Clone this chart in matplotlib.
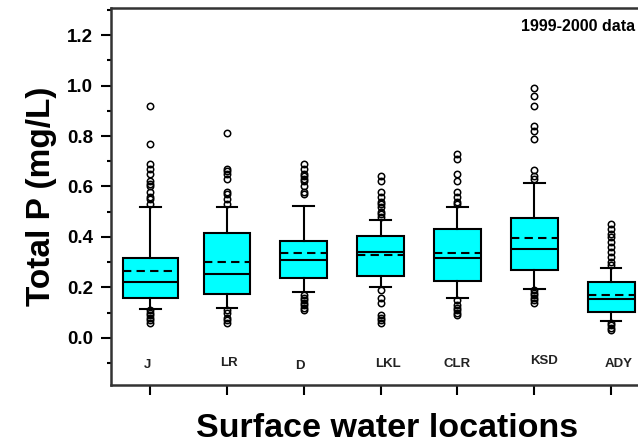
import matplotlib.pyplot as plt
from matplotlib.ticker import MultipleLocator

plt.rcParams['font.family'] = ['Liberation Sans', 'DejaVu Sans']

# Surface water sites and box statistics (Total P, mg/L)
sites = ['J', 'LR', 'D', 'LKL', 'CLR', 'KSD', 'ADY']
q1 = [0.157, 0.176, 0.239, 0.244, 0.226, 0.269, 0.104]
median = [0.220, 0.252, 0.309, 0.342, 0.316, 0.354, 0.153]
mean = [0.265, 0.302, 0.335, 0.327, 0.335, 0.397, 0.170]
q3 = [0.316, 0.417, 0.384, 0.404, 0.430, 0.474, 0.220]
whis_lo = [0.115, 0.120, 0.182, 0.200, 0.157, 0.195, 0.069]
whis_hi = [0.520, 0.520, 0.524, 0.467, 0.520, 0.613, 0.278]
outliers = [
    [0.92, 0.77, 0.69, 0.67, 0.65, 0.62, 0.61, 0.60, 0.58, 0.56, 0.55, 0.53,
     0.11, 0.10, 0.09, 0.08, 0.07, 0.06],
    [0.81, 0.67, 0.66, 0.65, 0.63, 0.58, 0.57, 0.55, 0.53,
     0.11, 0.10, 0.08, 0.07, 0.06],
    [0.69, 0.67, 0.65, 0.64, 0.63, 0.62, 0.60, 0.58, 0.57,
     0.17, 0.16, 0.15, 0.14, 0.13, 0.12, 0.11],
    [0.64, 0.62, 0.58, 0.56, 0.54, 0.53, 0.52, 0.50, 0.49, 0.48,
     0.19, 0.16, 0.14, 0.09, 0.08, 0.07, 0.06],
    [0.73, 0.71, 0.65, 0.62, 0.58, 0.56, 0.54, 0.53,
     0.15, 0.13, 0.12, 0.11, 0.10, 0.09],
    [0.99, 0.96, 0.92, 0.84, 0.82, 0.79, 0.665, 0.64, 0.63,
     0.19, 0.18, 0.17, 0.16, 0.15, 0.14],
    [0.45, 0.43, 0.41, 0.40, 0.38, 0.36, 0.34, 0.32, 0.30, 0.29,
     0.06, 0.05, 0.04, 0.03],
]

stats = []
for i, s in enumerate(sites):
    stats.append({'label': s, 'q1': q1[i], 'med': median[i], 'mean': mean[i],
                  'q3': q3[i], 'whislo': whis_lo[i], 'whishi': whis_hi[i],
                  'fliers': outliers[i]})

fig = plt.figure(figsize=(6.38, 4.45), dpi=100)
ax = fig.add_axes([0.174, 0.135, 0.826, 0.847])

pos = list(range(1, len(sites) + 1))
widths = [0.72] + [0.61] * (len(sites) - 1)
ax.bxp(stats, positions=pos, widths=widths, patch_artist=True,
       showmeans=True, meanline=True, capwidths=0.27,
       boxprops=dict(facecolor='#00ffff', edgecolor='black', linewidth=1.5),
       medianprops=dict(color='black', linewidth=1.5),
       meanprops=dict(color='black', linestyle=(0, (4, 2.5)), linewidth=1.5),
       whiskerprops=dict(color='black', linewidth=1.5),
       capprops=dict(color='black', linewidth=1.5),
       flierprops=dict(marker='o', markersize=4.6, markerfacecolor='none',
                       markeredgecolor='black', markeredgewidth=1.1))

# site labels inside the plot
label_dx = [-0.03, 0.03, -0.05, 0.09, 0.0, 0.13, 0.10]
label_y = [-0.107, -0.100, -0.111, -0.103, -0.103, -0.091, -0.103]
for p, s, dx, yy in zip(pos, sites, label_dx, label_y):
    ax.text(p + dx, yy, s, ha='center', va='center', fontsize=9.5,
            fontweight='bold', color='#222222')

ax.text(0.995, 0.95, '1999-2000 data', transform=ax.transAxes,
        ha='right', va='center', fontsize=11.5, fontweight='bold')

ax.set_xlim(0.49, 7.35)
ax.set_ylim(-0.186, 1.307)
ax.set_xticks(pos)
ax.set_xticklabels([])
ax.yaxis.set_major_locator(MultipleLocator(0.2))
ax.yaxis.set_minor_locator(MultipleLocator(0.1))
ax.set_yticks([0.0, 0.2, 0.4, 0.6, 0.8, 1.0, 1.2])
ax.set_yticklabels(['0.0', '0.2', '0.4', '0.6', '0.8', '1.0', '1.2'],
                   fontsize=13.5, fontweight='bold')
ax.tick_params(axis='both', which='major', direction='out', length=7,
               width=1.5, color='black', pad=6)
ax.tick_params(axis='y', which='minor', direction='out', length=3, width=1.5)
ax.spines['right'].set_visible(False)
for side in ['left', 'bottom', 'top']:
    ax.spines[side].set_linewidth(1.8)
    ax.spines[side].set_color('#333333')

ax.set_ylabel('Total P (mg/L)', fontsize=24, fontweight='bold', labelpad=7)
fig.text(0.607, 0.038, 'Surface water locations', ha='center', va='center',
         fontsize=24.5, fontweight='bold')

fig.savefig('out.png', dpi=100)
